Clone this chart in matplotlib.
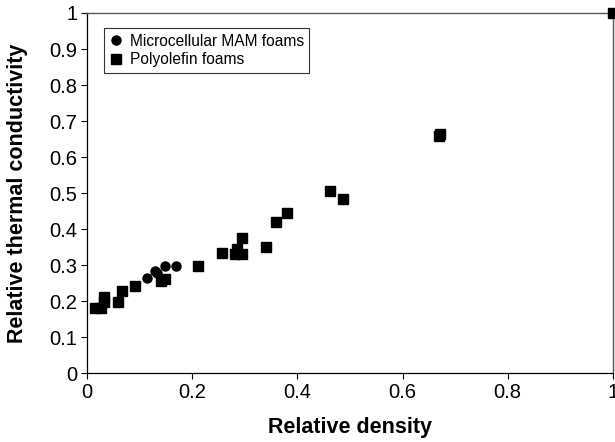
import matplotlib.pyplot as plt
from matplotlib.ticker import FuncFormatter

plt.rcParams['font.family'] = ['Liberation Sans', 'DejaVu Sans']

# Microcellular MAM foams
mam_densidad = [0.115, 0.129, 0.134, 0.149, 0.169]
mam_conduct = [0.263, 0.284, 0.277, 0.297, 0.297]

# Polyolefin foams
poli_densidad = [0.016, 0.027, 0.033, 0.033, 0.059, 0.067, 0.092, 0.141, 0.148,
                 0.212, 0.257, 0.281, 0.286, 0.294, 0.295, 0.340, 0.359, 0.380,
                 0.462, 0.487, 0.670, 0.671, 1.0]
poli_conduct = [0.182, 0.182, 0.212, 0.198, 0.196, 0.227, 0.243, 0.256, 0.260,
                0.297, 0.334, 0.331, 0.345, 0.331, 0.376, 0.350, 0.419, 0.444,
                0.506, 0.483, 0.657, 0.665, 1.0]

fig = plt.figure(figsize=(6.15, 4.42), dpi=100)
ax = fig.add_axes([0.1415, 0.156, 0.855, 0.8146])

ax.plot(mam_densidad, mam_conduct, 'o', color='black', markersize=6.5,
        label='Microcellular MAM foams', clip_on=False, zorder=3)
ax.plot(poli_densidad, poli_conduct, 's', color='black', markersize=6.8,
        label='Polyolefin foams', clip_on=False, zorder=3)

ax.set_xlim(0, 1)
ax.set_ylim(0, 1)
ax.set_xticks([0, 0.2, 0.4, 0.6, 0.8, 1])
ax.set_yticks([i / 10 for i in range(11)])
fmt = FuncFormatter(lambda v, p: '%g' % round(v, 1))
ax.xaxis.set_major_formatter(fmt)
ax.yaxis.set_major_formatter(fmt)
ax.tick_params(labelsize=14.5, length=4, width=0.8, color='black', pad=3)

for lado in ['top', 'right']:
    ax.spines[lado].set_color('#555555')
    ax.spines[lado].set_linewidth(1.0)
for lado in ['left', 'bottom']:
    ax.spines[lado].set_color('black')
    ax.spines[lado].set_linewidth(0.9)

ax.set_xlabel('Relative density', fontsize=15.5, fontweight='bold', labelpad=11)
ax.set_ylabel('Relative thermal conductivity', fontsize=15.5, fontweight='bold', labelpad=15)

leg = ax.legend(loc='upper left', bbox_to_anchor=(0.032, 0.958), fontsize=11.2,
                frameon=True, fancybox=False, edgecolor='black', handlelength=0.8,
                handletextpad=0.5, borderpad=0.35, labelspacing=0.25, borderaxespad=0)
leg.get_frame().set_linewidth(0.8)

plt.savefig('out.png', dpi=100)
